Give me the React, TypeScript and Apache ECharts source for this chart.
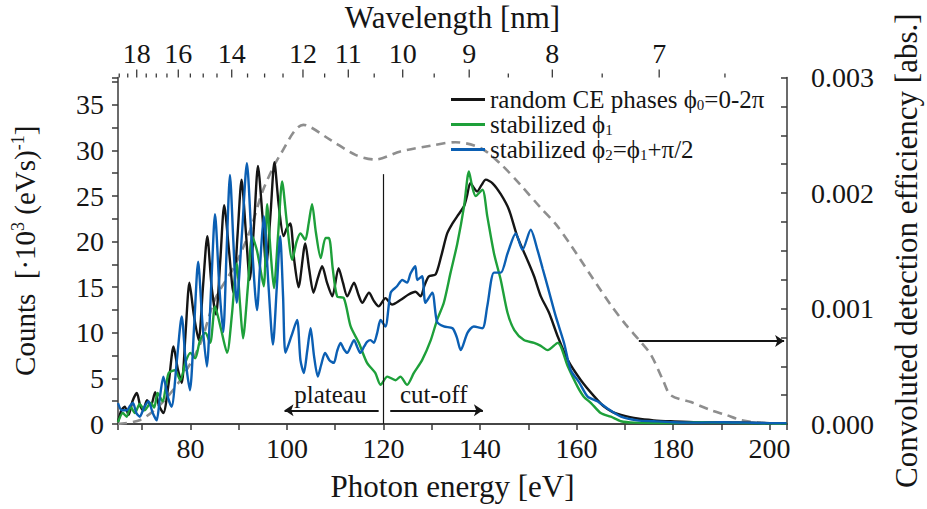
import React, { useEffect, useRef } from "react";
import * as echarts from "echarts";

// ---------- data (photon energy [eV], counts [·10^3 (eVs)^-1]) ----------
const randomCE: number[][] = [
  [65, 0.2], [65.7, 1.5], [66.4, 1.9], [67.2, 1.0], [68, 2.5], [68.9, 3.4], [69.6, 2.0], [70.2, 1.5],
  [71, 2.6], [71.8, 2.0], [72.7, 3.5], [73.5, 2.0], [74.4, 1.2], [75.5, 4.5], [76.5, 8.5], [77.4, 6.0],
  [78.2, 4.5], [79, 10], [79.8, 15.5], [80.7, 12], [81.7, 9.2], [82.6, 15], [83.5, 20.6], [84.4, 15],
  [85.3, 12.0], [86.2, 18], [87, 24], [88, 19], [88.9, 14.4], [89.8, 21], [90.6, 26.8], [91.5, 21],
  [92.3, 15.8], [93.2, 22], [94, 28.3], [94.9, 23], [95.7, 17.3], [96.6, 23], [97.4, 28.7], [98.3, 24],
  [99.3, 20.6], [100, 21.5], [100.7, 22], [101.5, 18], [102.4, 15], [103.8, 19.8], [104.6, 17],
  [105.5, 14.4], [106.4, 16], [107.3, 17.3], [108.3, 15.5], [109.4, 14], [110.7, 17.1], [111.6, 15.5],
  [112.5, 14], [113.9, 15.5], [114.8, 14.2], [115.6, 13.3], [117, 14.4], [118, 13.5], [119, 12.9],
  [120.4, 13.8], [121.8, 13.1], [123.5, 13.6], [125.2, 14.2], [126.6, 14.5], [127.7, 14], [128.5, 15.2],
  [129.4, 16.2], [130.8, 16.4], [132, 18.5], [133.2, 20.9], [134.3, 22], [135.3, 22.8], [136.7, 23.9],
  [137.3, 25], [138, 26.4], [139.4, 25.5], [140.3, 26.2], [141.2, 26.8], [142.6, 26.4], [144.3, 25.2],
  [146, 23.5], [147.7, 20.6], [149.8, 18], [151.2, 16.2], [152.6, 14], [154.3, 12.2], [156.1, 9.6],
  [158.2, 7.0], [160.9, 4.8], [163.7, 3.0], [165.7, 1.9], [167.5, 1.3], [169.2, 1.0], [172.6, 0.6],
  [176, 0.4], [179.5, 0.3], [185, 0.2], [190, 0.2], [195, 0.15], [200, 0.1], [203.5, 0.1],
];

const stabilized1: number[][] = [
  [65, 0.2], [66, 1.2], [66.8, 0.8], [67.6, 1.9], [68.5, 1.2], [69.5, 2.2], [70.5, 1.5], [71.8, 2.3],
  [72.5, 1.8], [73.2, 3.4], [74.2, 2.5], [75.5, 5.6], [76.8, 5.9], [77.9, 4.8], [79, 6.8], [80, 7.8],
  [81, 7.2], [82, 9.2], [83.1, 10], [84.1, 8.9], [85.1, 12.9], [86.3, 10.5], [87.6, 7.8], [88.6, 12],
  [89.6, 17.6], [90.3, 13], [90.9, 9.4], [91.9, 15], [92.8, 20.6], [93.8, 19], [95.2, 15.1],
  [95.9, 24.1], [96.6, 19], [97.3, 14.9], [98.2, 21], [99, 26.6], [100, 22], [101.1, 18], [102, 20],
  [102.8, 20.9], [103.8, 20.2], [104.5, 22], [105.2, 24.1], [106, 21], [107, 18.2], [108, 20.4],
  [108.7, 20.4], [109.5, 17], [110.4, 14], [111.8, 13.8], [113.2, 10.7], [114.9, 8.9], [116.6, 6.7],
  [118.3, 5.6], [119.4, 4.3], [120.8, 5.2], [122.5, 4.8], [123.5, 5.2], [124.9, 4.3], [126.3, 5.6],
  [128, 7.0], [129.8, 9.2], [131.1, 11.4], [132.5, 13.3], [133.9, 16.6], [135.3, 19.8], [136.7, 23.9],
  [137.7, 27.7], [138.4, 26], [139.1, 25.0], [140.5, 25.7], [141.5, 22.8], [142.9, 18.7], [144.3, 15.8],
  [145.7, 12.2], [147.1, 10.3], [149.1, 9.2], [151.2, 8.9], [152.5, 8.6], [154, 8.1], [156.1, 8.9],
  [158.2, 6.3], [160.2, 4.1], [161.5, 3.0], [163, 2.3], [165, 1.2], [167.1, 0.8], [169.2, 0.3],
  [172, 0.15], [180, 0.1], [186, 0.2], [190, 0.15], [195, 0.1], [203.5, 0.05],
];

const stabilized2: number[][] = [
  [65, 2.3], [65.8, 1.5], [66.8, 1.5], [67.5, 2.0], [68.1, 2.3], [68.8, 1.2], [69.5, 0.8], [70.4, 1.8],
  [71.3, 2.5], [72.2, 1.2], [73, 0.4], [73.7, 3], [74.4, 5.2], [75.3, 3], [76.1, 1.9], [77.2, 7],
  [78.2, 11.8], [79, 7], [79.9, 3.7], [80.8, 11], [81.6, 17.8], [82.5, 11], [83.4, 6.3], [84.3, 15],
  [85.1, 23.0], [86, 15], [86.8, 10.1], [87.5, 19], [88.2, 27.3], [88.9, 20], [89.6, 13.3], [90.7, 21],
  [91.7, 28.6], [92.7, 20], [93.8, 12.5], [94.5, 18], [95.2, 22.8], [96.2, 15], [97.1, 8.7], [97.9, 15],
  [98.6, 20.6], [99.2, 14], [99.7, 7.8], [100.9, 9.6], [102.1, 11.4], [102.8, 7], [103.5, 5.6],
  [104.2, 8], [104.9, 10.5], [105.6, 7.5], [106.4, 5.2], [107.1, 6.5], [107.9, 7.8], [108.8, 7],
  [109.7, 6.7], [110.4, 8], [111.1, 8.9], [111.8, 8.2], [112.5, 7.8], [113.2, 8.5], [113.9, 9.2],
  [114.6, 8.4], [115.2, 7.8], [116, 8.5], [116.6, 9.0], [117.3, 9.2], [118, 8.9], [118.7, 10],
  [119.4, 11.4], [120.4, 10.7], [121.5, 14.4], [122.8, 15.1], [123.9, 15.8], [124.9, 15.5],
  [125.6, 16.5], [126.6, 17.3], [127, 15.8], [128, 16.2], [128.7, 13.3], [130.1, 14.4], [131.1, 11.2],
  [132.5, 10.7], [134.3, 10.5], [135.2, 9.5], [136, 8.1], [137.4, 10.0], [138.7, 10.7], [140.5, 10.5],
  [141.5, 12.9], [142.9, 16.6], [144.3, 16.6], [145.7, 18.7], [147.4, 20.9], [148.8, 19.1],
  [150.5, 21.3], [151.9, 19.1], [153, 17], [154, 15.1], [155.7, 11.8], [157.4, 8.9], [158.8, 5.9],
  [160.5, 4.6], [162.3, 3.0], [164.3, 2.5], [166.4, 1.7], [169.2, 0.8], [172.6, 0.4], [176, 0.3],
  [180, 0.2], [185, 0.15], [190, 0.2], [195, 0.15], [200, 0.1], [203.5, 0.1],
];

// convoluted detection efficiency (right axis, abs.)
const efficiency: number[][] = [
  [65, 0.0], [69.6, 0.000035], [73.7, 0.000165], [77.9, 0.00038], [82.0, 0.00069], [85.1, 0.00108],
  [89.3, 0.00138], [92.4, 0.00168], [95.1, 0.00203], [98.6, 0.00233], [103.4, 0.00259], [109, 0.00246],
  [114.2, 0.00233], [118.3, 0.00229], [123.5, 0.00236], [129.8, 0.00241], [134.9, 0.00244],
  [140.1, 0.00239], [144.3, 0.00225], [148.4, 0.00207], [152.6, 0.00187], [155.7, 0.00173],
  [158.8, 0.00155], [162.9, 0.00129], [167.1, 0.00103], [170.2, 0.00086], [172.9, 0.00073],
  [175.4, 0.0006], [177.9, 0.00038], [179.5, 0.00025], [183.7, 0.00019], [187.8, 0.00012],
  [190.9, 0.00008], [194, 0.000035], [198.2, 0.00001], [203.5, 0.0],
];

const seriesNames = ["random CE phases ϕ0=0-2π", "stabilized ϕ1", "stabilized ϕ2=ϕ1+π/2"];
const wavelengthLabeled = [18, 16, 14, 12, 11, 10, 9, 8, 7];
const wavelengthMinor = [19, 18.5, 17.5, 17, 16.5, 15.5, 15, 14.5, 13.5, 13, 12.5, 11.5, 10.5, 9.5, 8.5, 7.5, 6.5];
const regionLabels: (number | string)[][] = [[109, 3.2, "plateau"], [130.4, 3.2, "cut-off"]];
const plateauArrow = [[119, 1.5], [99.5, 1.5]];
const cutoffArrow = [[121.4, 1.5], [140.6, 1.5]];
const axisArrow = [[172.9, 9.1], [203, 9.1]];
const separator = [[120, 0], [120, 27.4]];

const HC = 1239.84; // eV·nm
const X_MIN = 65;
const X_MAX = 203.6;
const Y_MAX = 38;

const FONT = "Liberation Serif, DejaVu Serif, serif";
const INK = "#151515";
const AX = "#3a3a3a";

export default function App() {
  const ref = useRef<HTMLDivElement>(null);

  useEffect(() => {
    if (!ref.current) return;
    const chart = echarts.init(ref.current, null, { renderer: "svg" });

    const topTicks = [
      ...wavelengthLabeled.map((l) => [HC / l, l, 1]),
      ...wavelengthMinor.map((l) => [HC / l, l, 0]),
    ];

    const subRich = { fontSize: 15, fontFamily: FONT, color: INK, padding: [10, 0, 0, 0] };
    const supRich = { fontSize: 18, fontFamily: FONT, color: INK, padding: [0, 0, 13, 0] };

    const axisLineStyle = { color: AX, width: 1.5 };

    chart.setOption({
      animation: false,
      backgroundColor: "#ffffff",
      grid: {
        left: 118,
        right: 140,
        top: 77.5,
        bottom: 85,
        containLabel: false,
        outerBoundsMode: "none",
      },
      legend: {
        data: seriesNames,
        orient: "vertical",
        left: 446,
        top: 82,
        itemWidth: 34,
        itemHeight: 3,
        itemGap: 0,
        icon: "rect",
        selectedMode: false,
        textStyle: { fontFamily: FONT, fontSize: 25, lineHeight: 25, color: INK, rich: { s: subRich } },
        formatter: (name: string) => name.replace(/ϕ(\d)/g, "ϕ{s|$1}"),
      },
      xAxis: [
        {
          type: "value",
          min: X_MIN,
          max: X_MAX,
          splitNumber: 14,
          position: "bottom",
          name: "Photon energy [eV]",
          nameLocation: "middle",
          nameGap: 47,
          nameTextStyle: { fontFamily: FONT, fontSize: 31, color: INK },
          axisLine: { show: true, lineStyle: axisLineStyle },
          axisTick: { show: true, length: 6, lineStyle: axisLineStyle },
          axisLabel: {
            margin: 10,
            fontFamily: FONT,
            fontSize: 28,
            color: INK,
            formatter: (v: number) => (Math.abs(v % 20) < 1e-6 ? String(v) : ""),
          },
          splitLine: { show: false },
        },
        {
          type: "value",
          min: X_MIN,
          max: X_MAX,
          position: "top",
          name: "Wavelength [nm]",
          nameLocation: "middle",
          nameGap: 45,
          nameTextStyle: { fontFamily: FONT, fontSize: 31, color: INK },
          axisLine: { show: true, lineStyle: axisLineStyle },
          axisTick: { show: false },
          axisLabel: { show: false },
          splitLine: { show: false },
        },
      ],
      yAxis: [
        {
          type: "value",
          min: 0,
          max: Y_MAX,
          interval: 2.5,
          position: "left",
          name: "Counts  [·10{sup|3} (eVs){sup|-1}]",
          nameLocation: "middle",
          nameRotate: 90,
          nameGap: 78,
          nameTextStyle: { fontFamily: FONT, fontSize: 29, color: INK, rich: { sup: supRich } },
          axisLine: { show: true, lineStyle: axisLineStyle },
          axisTick: { show: true, length: 6, lineStyle: axisLineStyle },
          axisLabel: {
            margin: 14,
            fontFamily: FONT,
            fontSize: 28,
            color: INK,
            formatter: (v: number) => (Math.abs(v % 5) < 1e-6 ? String(v) : ""),
          },
          splitLine: { show: false },
        },
        {
          type: "value",
          min: 0,
          max: 0.003,
          interval: 0.00025,
          position: "right",
          name: "Convoluted detection efficiency [abs.]",
          nameLocation: "middle",
          nameRotate: 90,
          nameGap: 104,
          nameTextStyle: { fontFamily: FONT, fontSize: 31, color: INK },
          axisLine: { show: true, lineStyle: axisLineStyle },
          axisTick: { show: true, inside: true, length: 6, lineStyle: axisLineStyle },
          axisLabel: {
            margin: 24,
            fontFamily: FONT,
            fontSize: 28,
            color: INK,
            formatter: (v: number) => {
              const k = Math.round(v * 4000);
              return k % 4 === 0 ? (k / 4000).toFixed(3) : "";
            },
          },
          splitLine: { show: false },
        },
      ],
      series: [
        {
          name: "efficiency",
          type: "line",
          xAxisIndex: 0,
          yAxisIndex: 1,
          data: efficiency,
          showSymbol: false,
          smooth: 0.3,
          lineStyle: { color: "#8e8e8e", width: 2.6, type: [9, 6] },
          silent: true,
          z: 1,
        },
        {
          name: seriesNames[0],
          type: "line",
          data: randomCE,
          showSymbol: false,
          symbol: "none",
          smooth: 0.25,
          itemStyle: { color: INK },
          lineStyle: { color: INK, width: 2.4 },
          z: 2,
          markLine: {
            silent: true,
            symbol: ["none", "none"],
            label: { show: false },
            lineStyle: { color: INK, width: 1.2, type: "solid" },
            data: [[{ coord: separator[0] }, { coord: separator[1] }]],
          },
        },
        {
          name: seriesNames[1],
          type: "line",
          data: stabilized1,
          showSymbol: false,
          symbol: "none",
          smooth: 0.25,
          itemStyle: { color: "#1ea03a" },
          lineStyle: { color: "#1ea03a", width: 2.4 },
          z: 3,
          markLine: {
            silent: true,
            symbol: ["none", "arrow"],
            symbolSize: 9,
            label: { show: false },
            lineStyle: { color: INK, width: 1.8, type: "solid" },
            data: [
              [{ coord: plateauArrow[0] }, { coord: plateauArrow[1] }],
              [{ coord: cutoffArrow[0] }, { coord: cutoffArrow[1] }],
              [{ coord: axisArrow[0] }, { coord: axisArrow[1] }],
            ],
          },
        },
        {
          name: seriesNames[2],
          type: "line",
          data: stabilized2,
          showSymbol: false,
          symbol: "none",
          smooth: 0.25,
          itemStyle: { color: "#0b5fb3" },
          lineStyle: { color: "#0b5fb3", width: 2.4 },
          z: 4,
        },
        {
          name: "wavelength ticks",
          type: "custom",
          xAxisIndex: 1,
          yAxisIndex: 0,
          clip: false,
          silent: true,
          data: topTicks,
          renderItem: (params: any, api: any) => {
            const major = api.value(2) === 1;
            const pt = api.coord([api.value(0), Y_MAX]);
            const top = params.coordSys.y;
            const len = major ? 8 : 4;
            const children: any[] = [
              {
                type: "line",
                shape: { x1: pt[0], y1: top, x2: pt[0], y2: top - len },
                style: { stroke: AX, lineWidth: 1.3 },
              },
            ];
            if (major) {
              children.push({
                type: "text",
                x: pt[0],
                y: top - 10,
                style: {
                  text: String(api.value(1)),
                  fontFamily: FONT,
                  fontSize: 28,
                  fill: INK,
                  align: "center",
                  verticalAlign: "bottom",
                },
              });
            }
            return { type: "group", children };
          },
          z: 5,
        },
        {
          name: "regions",
          type: "custom",
          xAxisIndex: 0,
          yAxisIndex: 0,
          clip: false,
          silent: true,
          data: regionLabels,
          renderItem: (params: any, api: any) => {
            const pt = api.coord([api.value(0), api.value(1)]);
            return {
              type: "text",
              x: pt[0],
              y: pt[1],
              style: {
                text: String(regionLabels[params.dataIndex][2]),
                fontFamily: FONT,
                fontSize: 25,
                fill: INK,
                align: "center",
                verticalAlign: "middle",
              },
            };
          },
          z: 5,
        },
      ],
    });

    return () => chart.dispose();
  }, []);

  return (
    <div
      ref={ref}
      style={{ position: "fixed", left: 0, top: 0, width: 927, height: 509, background: "#fff" }}
    />
  );
}
